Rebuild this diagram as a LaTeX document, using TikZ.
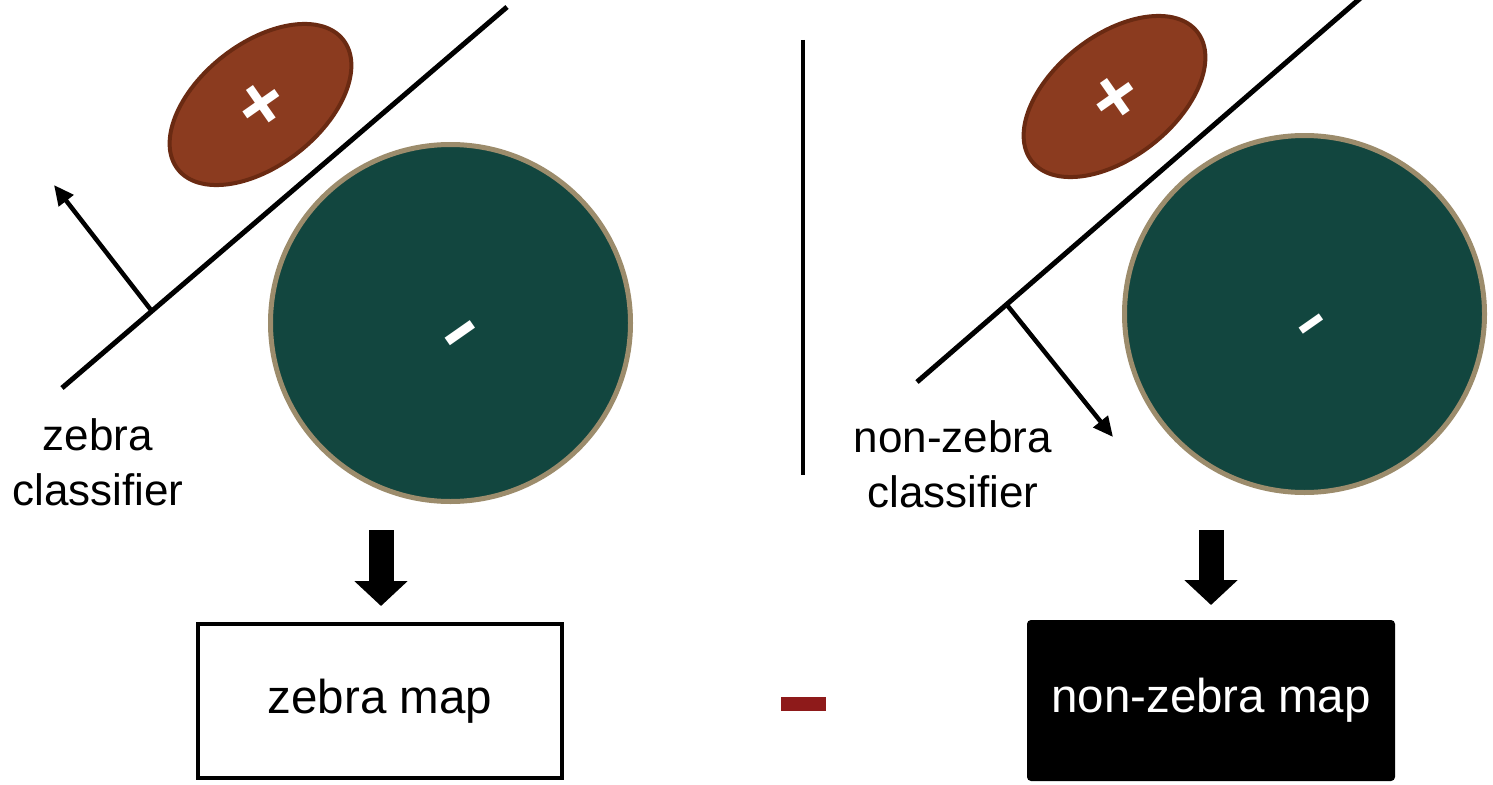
\documentclass[tikz,border=0pt]{standalone}
\usepackage{fontspec}
\usepackage{graphicx}
\setmainfont{Liberation Sans}
\usetikzlibrary{shapes.geometric,arrows.meta}
\definecolor{blobbrown}{HTML}{8B3B1F}
\definecolor{blobedge}{HTML}{6A2A12}
\definecolor{poolgreen}{HTML}{12463F}
\definecolor{pooledge}{HTML}{9C8C6C}
\definecolor{diffred}{HTML}{8E1A1A}

\begin{document}
\begin{tikzpicture}[x=1pt,y=-1pt,
  boundary/.style={line width=5pt, black},
  normal/.style={line width=4.5pt, -{Triangle[length=20pt,width=18pt]}},
  posblob/.style={ellipse, draw=blobedge, fill=blobbrown, line width=4pt,
    minimum width=210pt, minimum height=122pt, inner sep=0pt, rotate=38},
  negblob/.style={ellipse, draw=pooledge, fill=poolgreen, line width=5pt,
    minimum width=360pt, minimum height=357pt, inner sep=0pt},
  sign/.style={text=white, inner sep=0pt, rotate=35},
  caption/.style={align=center, font=\fontsize{44}{55}\selectfont, inner sep=0pt},
  bigarrow/.style={line width=25pt, -{Triangle[length=25pt,width=52pt]}},
  mapbox/.style={minimum width=364pt, minimum height=154pt, inner sep=0pt,
    font=\fontsize{47.5}{57}\selectfont, line width=4pt}]
\useasboundingbox (0,0) rectangle (1493,784);

% ---------- zebra classifier ----------
\coordinate (lA) at (62,388);
\coordinate (lB) at (507,7);
\draw[boundary] (lA) -- (lB);
\coordinate (lfoot) at (151,310);
\coordinate (ltip) at (54,185);
\draw[normal] (lfoot) -- (ltip);

\node[posblob] (lpos) at (260.5,104.5) {};
\node[sign, font=\fontsize{78}{78}\selectfont\bfseries] (lplus) at (263,107) {+};
\node[negblob] (lneg) at (450.5,323) {};
\node[sign, font=\fontsize{62}{62}\selectfont\bfseries] (lminus) at (466,341) {\scalebox{1}[1.5]{–}};

\node[caption] (lcap) at (98,462) {zebra\\classifier};

\node[mapbox, draw=black, fill=white] (zmap) at (380,701) {zebra map};
\coordinate (larr) at (381,530);
\draw[bigarrow, shorten >=16pt] (larr) -- (larr |- zmap.north);

% ---------- separator and difference sign ----------
\coordinate (sepT) at (803,40);
\coordinate (sepB) at (803,475);
\draw[line width=4pt] (sepT) -- (sepB);
\node[fill=diffred, minimum width=45pt, minimum height=14pt, inner sep=0pt] (diff) at (803.5,704) {};

% ---------- non-zebra classifier ----------
\coordinate (rA) at (917,382);
\coordinate (rB) at (1364,-5);
\draw[boundary] (rA) -- (rB);
\coordinate (rfoot) at (1007,305);
\coordinate (rtip) at (1113,437);
\draw[normal] (rfoot) -- (rtip);

\node[posblob] (rpos) at (1114.5,96.5) {};
\node[sign, font=\fontsize{78}{78}\selectfont\bfseries] (rplus) at (1117,100) {+};
\node[negblob] (rneg) at (1304.5,314) {};
\node[sign, font=\fontsize{50}{50}\selectfont\bfseries] (rminus) at (1316,331) {\scalebox{1}[1.5]{–}};

\node[caption] (rcap) at (953,464) {non-zebra\\classifier};

\node[mapbox, minimum width=368pt, minimum height=161pt, fill=black, text=white,
  rounded corners=4pt] (nzmap) at (1211,700.5) {non-zebra map};
\coordinate (rarr) at (1211,530);
\draw[bigarrow, shorten >=13pt] (rarr) -- (rarr |- nzmap.north);
\end{tikzpicture}
\end{document}
